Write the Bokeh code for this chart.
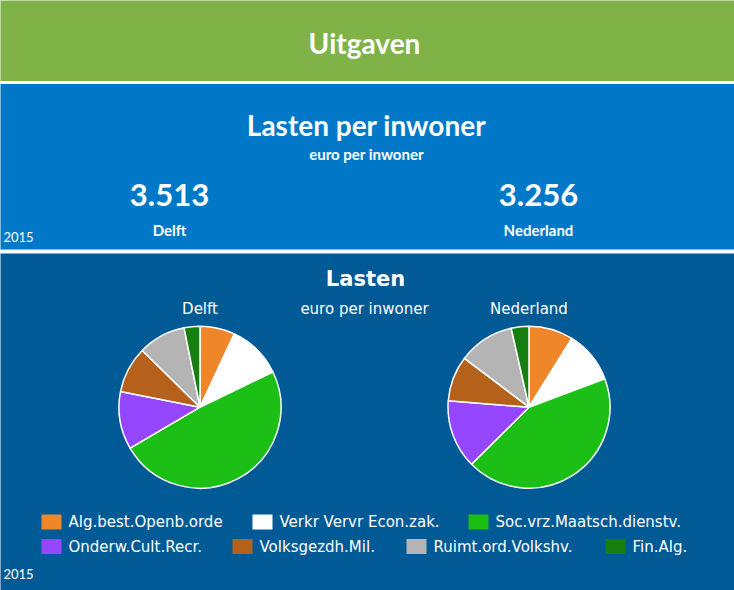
import numpy as np
from bokeh.plotting import figure
from bokeh.models import Range1d, ColumnDataSource
from bokeh.core.properties import value
from bokeh.embed import file_html
from bokeh.resources import INLINE

# ---------------- data ----------------
categories = ["Alg.best.Openb.orde", "Verkr Vervr Econ.zak.", "Soc.vrz.Maatsch.dienstv.",
              "Onderw.Cult.Recr.", "Volksgezdh.Mil.", "Ruimt.ord.Volkshv.", "Fin.Alg."]
colors = ["#F0862A", "#FFFFFF", "#1BBF16", "#9546FF", "#B5611C", "#B4B4B4", "#177F10"]
delft_values = [245, 382, 1713, 405, 325, 333, 111]
nederland_values = [289, 340, 1408, 446, 295, 363, 115]
kpi_labels = ["Delft", "Nederland"]
kpi_values = ["3.513", "3.256"]
year = "2015"

W, H = 734, 590
OFF = 0


def px(x):
    return x - OFF


def py(y):
    return (H + OFF) - y


p = figure(width=W, height=H, x_range=Range1d(0, W), y_range=Range1d(0, H),
           output_backend="svg", toolbar_location=None, min_border=0)
p.axis.visible = False
p.grid.visible = False
p.outline_line_color = None
p.background_fill_color = "white"
p.border_fill_color = "white"

# bands (extend past the edges so no anti-aliased seam shows)
p.quad(left=[-10], right=[W + 10], top=[H + 10], bottom=[py(80.5)], fill_color="#7FB347", line_color=None)
p.quad(left=[-10], right=[W + 10], top=[py(83.5)], bottom=[py(249)], fill_color="#0078C8", line_color=None)
p.quad(left=[-10], right=[W + 10], top=[py(253)], bottom=[-10], fill_color="#005A96", line_color=None)

TOP_FONT = value("Lato")
LOW_FONT = value("DejaVu Sans")


def txt(x, y, s, size, font, style="normal", align="center"):
    p.text(x=[px(x)], y=[py(y)], text=[s], text_color="white", text_font=font,
           text_font_size=f"{size}px", text_font_style=style, text_align=align,
           text_baseline="middle")


# header
txt(364, 42, "Uitgaven", 28, TOP_FONT, "bold")

# KPI block
txt(366, 124, "Lasten per inwoner", 28, TOP_FONT, "bold")
txt(366, 153, "euro per inwoner", 15, TOP_FONT, "bold")
kpi_x = [169, 538]
for xx, lab, val in zip(kpi_x, kpi_labels, kpi_values):
    txt(xx, 194, val, 31, TOP_FONT, "bold")
    txt(xx, 229, lab, 15, TOP_FONT, "bold")
txt(3, 236, year, 13, TOP_FONT, "normal", "left")

# lower block titles
txt(365, 278, "Lasten", 21, LOW_FONT, "bold")
txt(364, 308, "euro per inwoner", 15, LOW_FONT)

# pies
pie_cx = [199.5, 528.5]
pie_cy = 406.7
R = 81
for cx, lab, vals in zip(pie_cx, kpi_labels, [delft_values, nederland_values]):
    v = np.array(vals, dtype=float)
    frac = v / v.sum()
    cend = np.cumsum(frac)
    cstart = cend - frac
    start = np.pi / 2 - 2 * np.pi * cend
    end = np.pi / 2 - 2 * np.pi * cstart
    src = ColumnDataSource(dict(start=start, end=end, color=colors))
    p.wedge(x=px(cx), y=py(pie_cy), radius=R, start_angle="start", end_angle="end",
            fill_color="color", line_color="white", line_width=1.5, source=src)
    txt(cx, 308, lab, 15, LOW_FONT)

# legend (flow layout positions)
leg_x = [41, 252, 468, 41, 232, 406, 605]
leg_y = [521.5, 521.5, 521.5, 546, 546, 546, 546]
for i, cat in enumerate(categories):
    x0, y0 = leg_x[i], leg_y[i]
    p.rect(x=[px(x0 + 10)], y=[py(y0)], width=20, height=15, fill_color=colors[i], line_color=None)
    txt(x0 + 27, y0, cat, 15, LOW_FONT, "normal", "left")

txt(3, 573, year, 13, TOP_FONT, "normal", "left")

open("out.html", "w").write(file_html(p, INLINE))
